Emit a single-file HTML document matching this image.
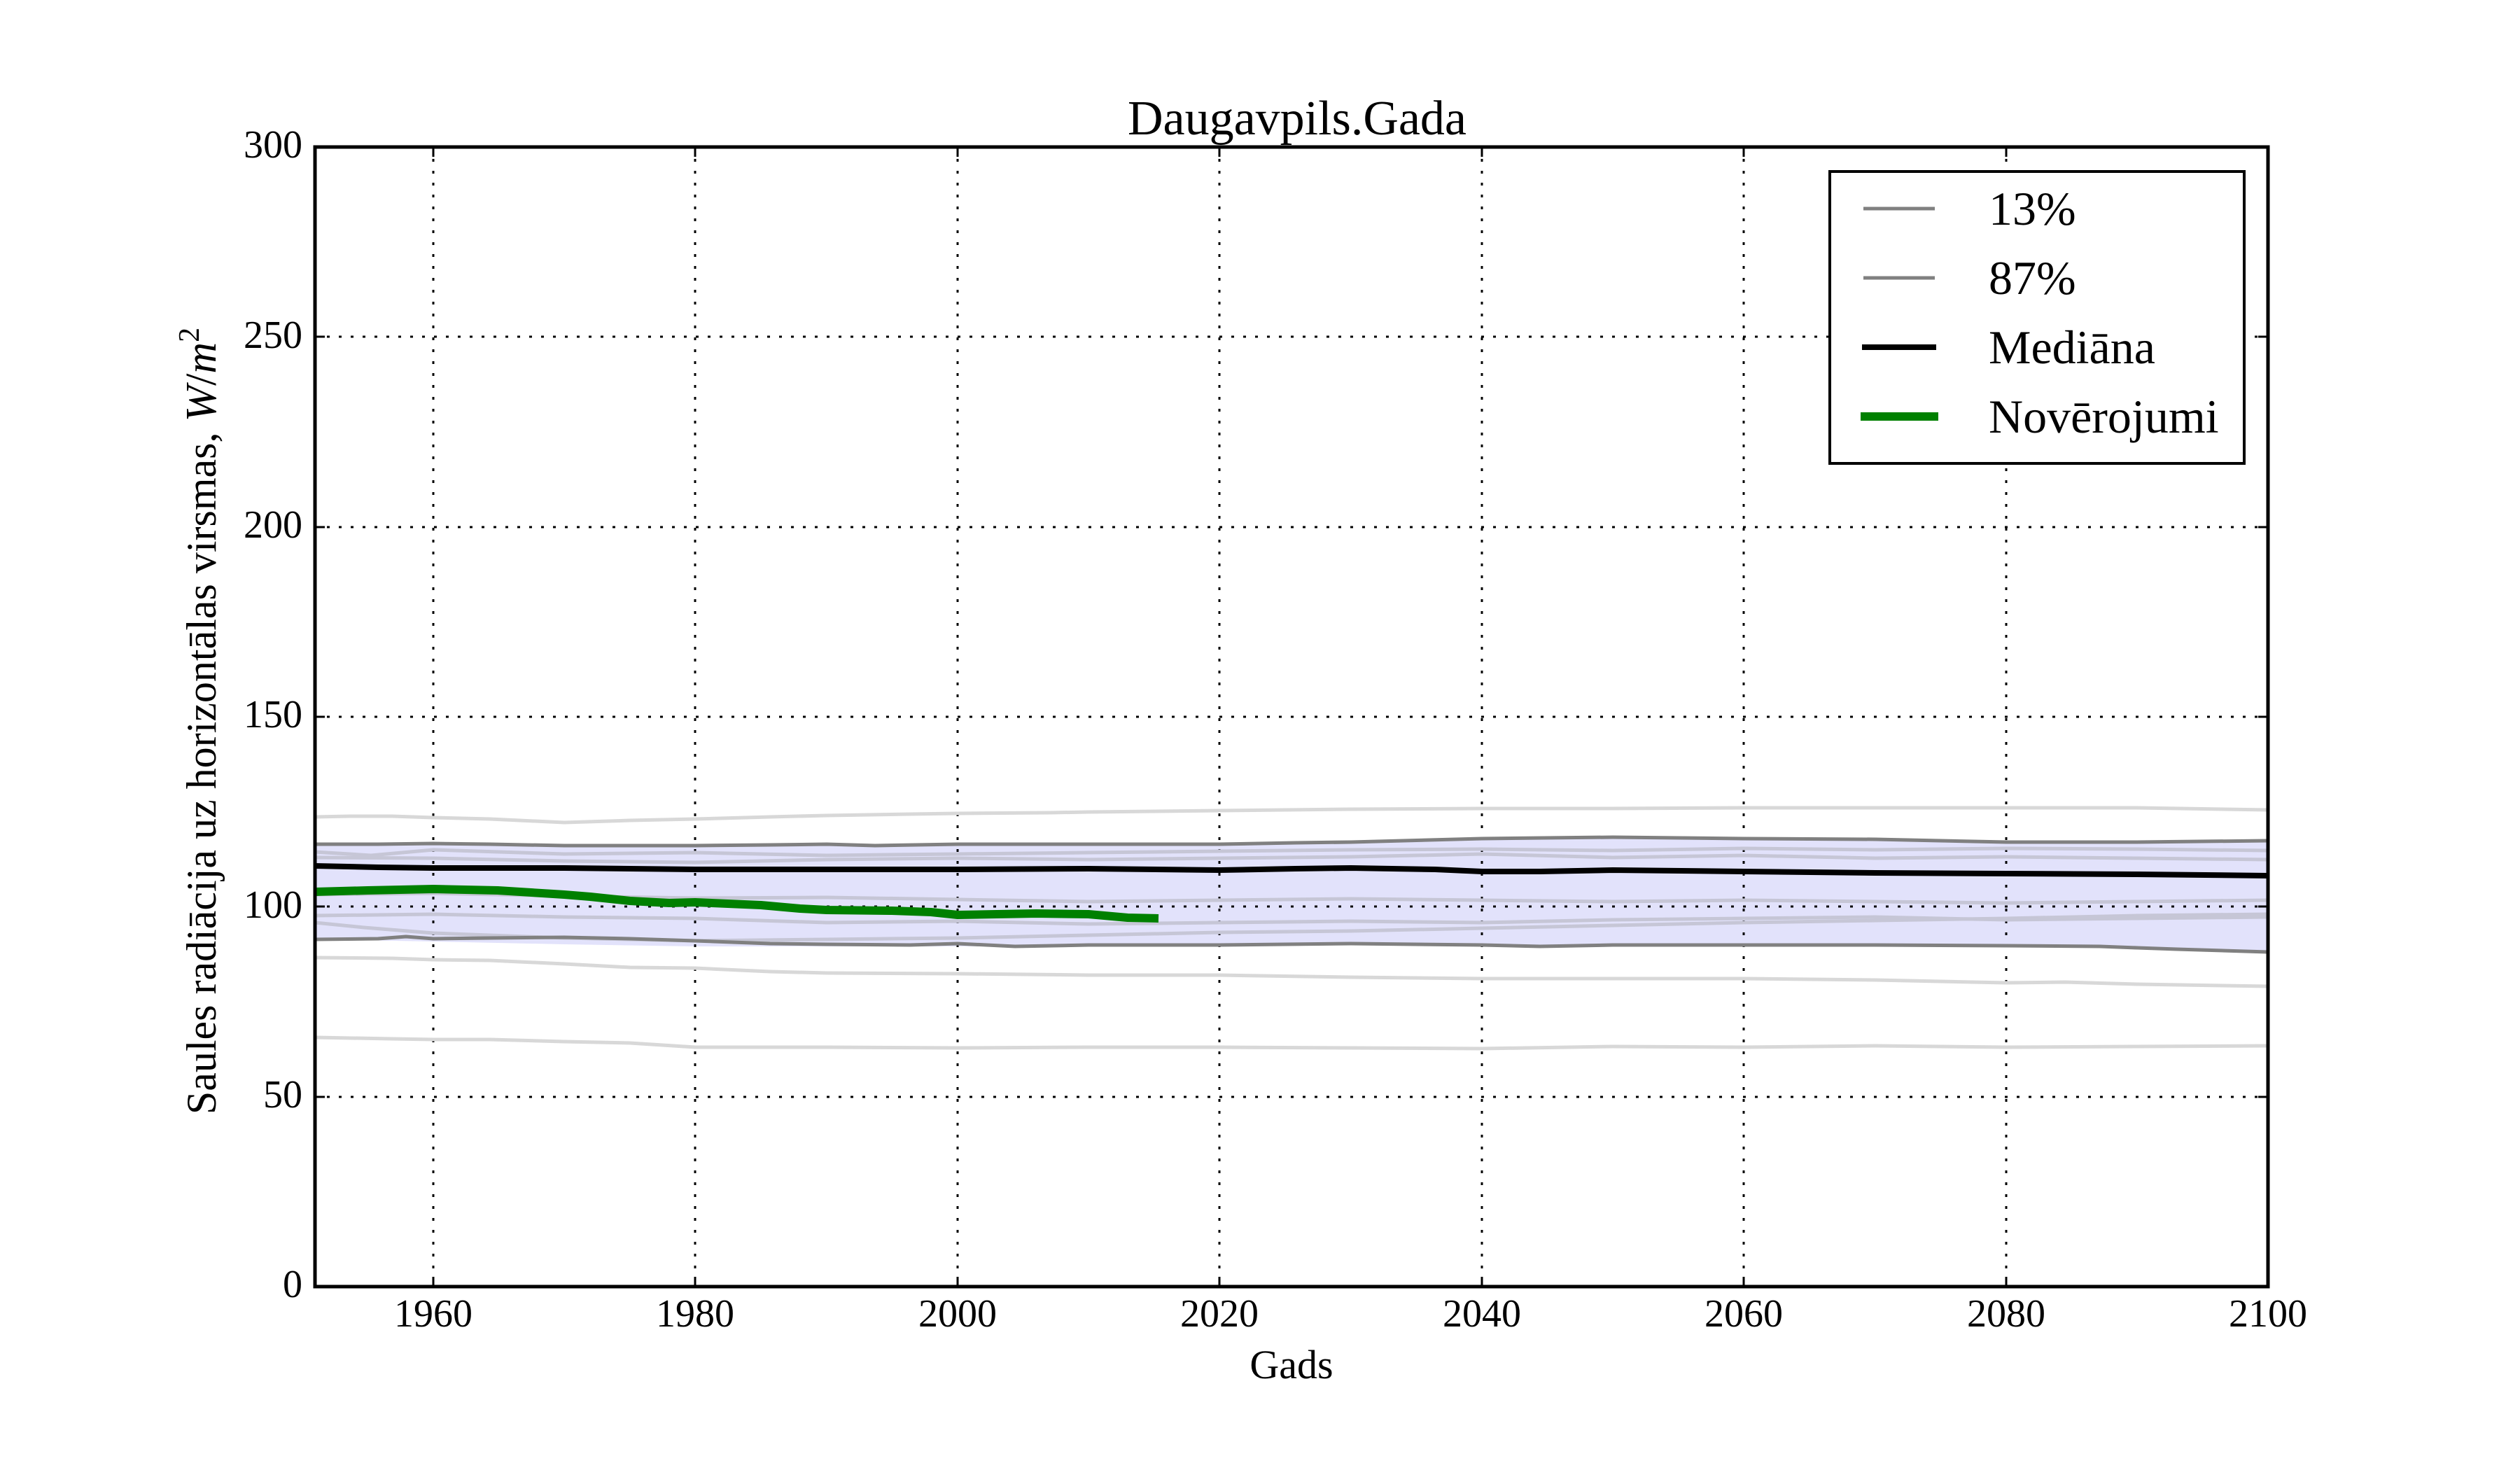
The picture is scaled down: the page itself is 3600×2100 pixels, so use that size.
<!DOCTYPE html>
<html><head><meta charset="utf-8"><style>html,body{margin:0;padding:0;background:#fff}svg{display:block}</style></head>
<body>
<svg xmlns="http://www.w3.org/2000/svg" width="3600" height="2100" viewBox="0 0 3600 2100" font-family="Liberation Serif, serif">
<rect width="3600" height="2100" fill="#fff"/>
<polygon fill="#e2e2fb" points="450,1206 619,1206 806,1208 993,1208 1181,1206 1368,1206 1555,1206 1742,1206 1930,1203 2117,1198 2304,1195 2491,1198 2679,1198 2866,1203 3053,1203 3240,1203 3240,1360 3053,1352 2866,1350 2679,1350 2491,1350 2304,1350 2117,1350 1930,1348 1742,1350 1555,1351 1368,1352 1181,1352 993,1352 806,1349 619,1345 450,1342"/>
<g stroke="#000" stroke-width="3" stroke-dasharray="4 13">
<line x1="619" y1="210" x2="619" y2="1838"/><line x1="993" y1="210" x2="993" y2="1838"/><line x1="1368" y1="210" x2="1368" y2="1838"/><line x1="1742" y1="210" x2="1742" y2="1838"/><line x1="2117" y1="210" x2="2117" y2="1838"/><line x1="2491" y1="210" x2="2491" y2="1838"/><line x1="2866" y1="210" x2="2866" y2="1838"/>
<line x1="450" y1="481" x2="3240" y2="481"/><line x1="450" y1="753" x2="3240" y2="753"/><line x1="450" y1="1024" x2="3240" y2="1024"/><line x1="450" y1="1295" x2="3240" y2="1295"/><line x1="450" y1="1567" x2="3240" y2="1567"/>
</g>
<g fill="none" stroke="#d8d8d8" stroke-width="5" stroke-linejoin="round">
<polyline points="450,1167 500,1166 560,1166 619,1168 700,1170 806,1175 900,1172 993,1170 1100,1167 1181,1165 1300,1163 1368,1162 1500,1161 1555,1160 1742,1158 1930,1156 2117,1155 2304,1155 2491,1154 2679,1154 2866,1154 3053,1154 3240,1157"/>
<polyline points="450,1368 560,1369 619,1371 700,1372 806,1377 900,1382 993,1383 1100,1388 1181,1390 1368,1391 1555,1393 1742,1393 1930,1396 2117,1398 2304,1398 2491,1398 2679,1400 2866,1404 2950,1403 3053,1406 3240,1409"/>
<polyline points="450,1482 560,1484 619,1485 700,1485 806,1488 900,1490 993,1496 1181,1496 1368,1497 1555,1496 1742,1496 1930,1497 2117,1498 2304,1495 2491,1496 2679,1494 2866,1496 3053,1495 3240,1494"/>
</g>
<g fill="none" stroke="#c6c6d6" stroke-width="5" stroke-linejoin="round">
<polyline points="450,1217 530,1222 619,1214 806,1220 993,1218 1181,1222 1368,1220 1555,1218 1742,1216 1930,1214 2117,1213 2304,1215 2491,1212 2679,1214 2866,1212 3053,1213 3240,1215"/>
<polyline points="450,1225 619,1226 806,1230 993,1232 1181,1228 1368,1226 1555,1228 1742,1226 1930,1224 2117,1220 2304,1225 2491,1222 2679,1226 2866,1224 3053,1226 3240,1228"/>
<polyline points="450,1278 619,1276 806,1280 993,1283 1181,1282 1368,1285 1555,1288 1742,1286 1930,1284 2117,1286 2304,1288 2491,1286 2679,1288 2866,1290 3053,1288 3240,1286"/>
<polyline points="450,1308 619,1306 806,1310 993,1312 1181,1318 1368,1316 1555,1320 1742,1318 1930,1316 2117,1318 2304,1314 2491,1312 2679,1310 2866,1314 3053,1312 3240,1310"/>
<polyline points="450,1318 520,1325 619,1333 806,1340 993,1344 1181,1342 1368,1340 1555,1336 1742,1332 1930,1330 2117,1326 2304,1322 2491,1318 2679,1315 2866,1312 3053,1308 3240,1306"/>
</g>
<g fill="none" stroke="#808080" stroke-width="5" stroke-linejoin="round">
<polyline points="450,1206 540,1206 619,1205 700,1206 806,1208 900,1208 993,1208 1100,1207 1181,1206 1250,1208 1368,1206 1555,1206 1742,1206 1850,1204 1930,1203 2117,1198 2304,1196 2400,1197 2491,1198 2679,1199 2866,1203 3053,1203 3240,1201"/>
<polyline points="450,1342 540,1341 580,1338 619,1341 700,1340 806,1339 900,1341 993,1344 1100,1348 1181,1349 1300,1350 1368,1348 1450,1352 1555,1350 1742,1350 1930,1348 2117,1350 2200,1352 2304,1350 2491,1350 2679,1350 2866,1351 3000,1352 3053,1354 3110,1356 3240,1360"/>
</g>
<polyline fill="none" stroke="#000" stroke-width="8" stroke-linejoin="round" points="450,1237 540,1239 619,1240 806,1240 993,1242 1181,1242 1368,1242 1555,1241 1742,1243 1850,1241 1930,1240 2050,1242 2117,1245 2200,1245 2304,1243 2491,1245 2679,1247 2866,1248 3053,1249 3150,1250 3240,1251"/>
<polyline fill="none" stroke="#008000" stroke-width="12" stroke-linejoin="round" points="450,1274 525,1272 619,1270 711,1272 806,1278 843,1281 900,1287 956,1290 993,1289 1087,1293 1143,1298 1181,1300 1274,1301 1330,1303 1368,1307 1424,1306 1480,1305 1555,1306 1611,1311 1655,1312"/>
<rect x="450" y="210" width="2790" height="1628" fill="none" stroke="#000" stroke-width="5"/>
<g stroke="#000" stroke-width="3">
<path d="M619,1838v-14M993,1838v-14M1368,1838v-14M1742,1838v-14M2117,1838v-14M2491,1838v-14M2866,1838v-14M619,210v14M993,210v14M1368,210v14M1742,210v14M2117,210v14M2491,210v14M2866,210v14"/>
<path d="M450,481h14M450,753h14M450,1024h14M450,1295h14M450,1567h14M3240,481h-14M3240,753h-14M3240,1024h-14M3240,1295h-14M3240,1567h-14"/>
</g>
<g font-size="56" text-anchor="middle">
<text x="619" y="1895">1960</text><text x="993" y="1895">1980</text><text x="1368" y="1895">2000</text><text x="1742" y="1895">2020</text><text x="2117" y="1895">2040</text><text x="2491" y="1895">2060</text><text x="2866" y="1895">2080</text><text x="3240" y="1895">2100</text>
</g>
<g font-size="56" text-anchor="end">
<text x="432" y="225">300</text><text x="432" y="497">250</text><text x="432" y="768">200</text><text x="432" y="1039">150</text><text x="432" y="1311">100</text><text x="432" y="1582">50</text><text x="432" y="1853">0</text>
</g>
<text x="1853" y="192" font-size="70" text-anchor="middle">Daugavpils.Gada</text>
<text x="1845" y="1969" font-size="58" text-anchor="middle">Gads</text>
<text transform="translate(308,1030) rotate(-90)" font-size="60" text-anchor="middle">Saules radiācija uz horizontālas virsmas, <tspan font-style="italic" font-size="62">W</tspan><tspan font-size="62">/</tspan><tspan font-style="italic" font-size="62">m</tspan><tspan font-size="42" dy="-24">2</tspan></text>
<rect x="2614" y="245" width="592" height="417" fill="#fff" stroke="#000" stroke-width="4"/>
<g stroke-width="5"><line x1="2662" y1="298" x2="2764" y2="298" stroke="#808080"/><line x1="2662" y1="397" x2="2764" y2="397" stroke="#808080"/></g>
<line x1="2660" y1="496" x2="2766" y2="496" stroke="#000" stroke-width="8"/>
<line x1="2658" y1="595" x2="2769" y2="595" stroke="#008000" stroke-width="12"/>
<g font-size="68">
<text x="2841" y="321">13%</text><text x="2841" y="420">87%</text><text x="2841" y="519">Mediāna</text><text x="2841" y="618">Novērojumi</text>
</g>
</svg>
</body></html>
